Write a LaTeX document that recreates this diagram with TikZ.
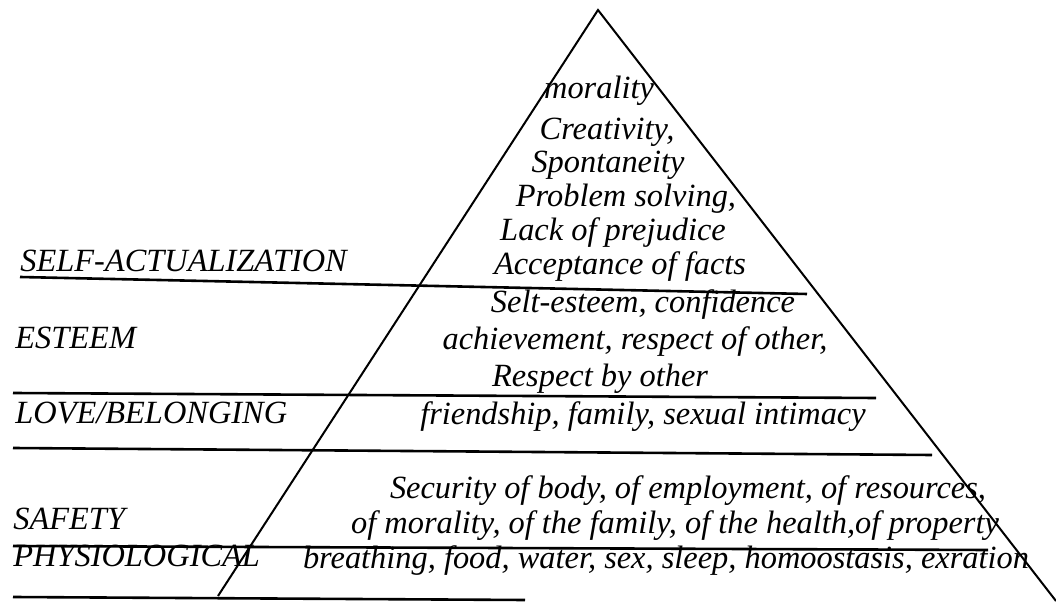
\documentclass[tikz,border=0pt]{standalone}
\usepackage{fontspec}
\setmainfont{Liberation Serif}
\usetikzlibrary{positioning}

\begin{document}
\begin{tikzpicture}[x=0.5pt, y=-0.5pt,
    txt/.style={font=\fontsize{16.2}{19}\selectfont\itshape, inner sep=0pt, anchor=base},
    lvl/.style={txt, anchor=base west},
    rule/.style={line width=1.3pt},
    side/.style={line width=1pt}]
  \useasboundingbox (0,0) rectangle (1056,604);

  \coordinate (top) at (598,10);
  \coordinate (bl)  at (218,596);
  \coordinate (br)  at (1056,601);
  \draw[side] (bl) -- (top) -- (br);

  % level names on the left
  \node[lvl] (sa)   at (20,272)  {SELF-ACTUALIZATION};
  \node[lvl] (est)  at (15,349)  {ESTEEM};
  \node[lvl] (love) at (15,423)  {LOVE/BELONGING};
  \node[lvl] (safe) at (13,530)  {SAFETY};
  \node[lvl] (phys) at (13,567)  {PHYSIOLOGICAL};

  % dividers
  \draw[rule] (20,277) -- (807,294);
  \draw[rule] (13,393) -- (876,398);
  \draw[rule] (13,448) -- (932,455);
  \draw[rule] (13,546) -- (988,550);
  \draw[rule] (13,597) -- (525,600);

  % needs inside the pyramid
  \node[txt] (mor)  at (599,99)  {morality};
  \node[txt] (cre)  at (607,140) {Creativity,};
  \node[txt] (spo)  at (608,173) {Spontaneity};
  \node[txt] (pro)  at (626,207) {Problem solving,};
  \node[txt] (lac)  at (613,241) {Lack of prejudice};
  \node[txt] (acc)  at (620,275) {Acceptance of facts};
  \node[txt] (se1)  at (643,313) {Selt-esteem, confidence};
  \node[txt] (se2)  at (635,350) {achievement, respect of other,};
  \node[txt] (se3)  at (600,387) {Respect by other};
  \node[txt] (frd)  at (643,425) {friendship, family, sexual intimacy};
  \node[txt] (sf1)  at (688,498) {Security of body, of employment, of resources,};
  \node[txt] (sf2)  at (675,533) {of morality, of the family, of the health,of property};
  \node[txt] (bre)  at (666,568) {breathing, food, water, sex, sleep, homoostasis, exration};
\end{tikzpicture}
\end{document}
